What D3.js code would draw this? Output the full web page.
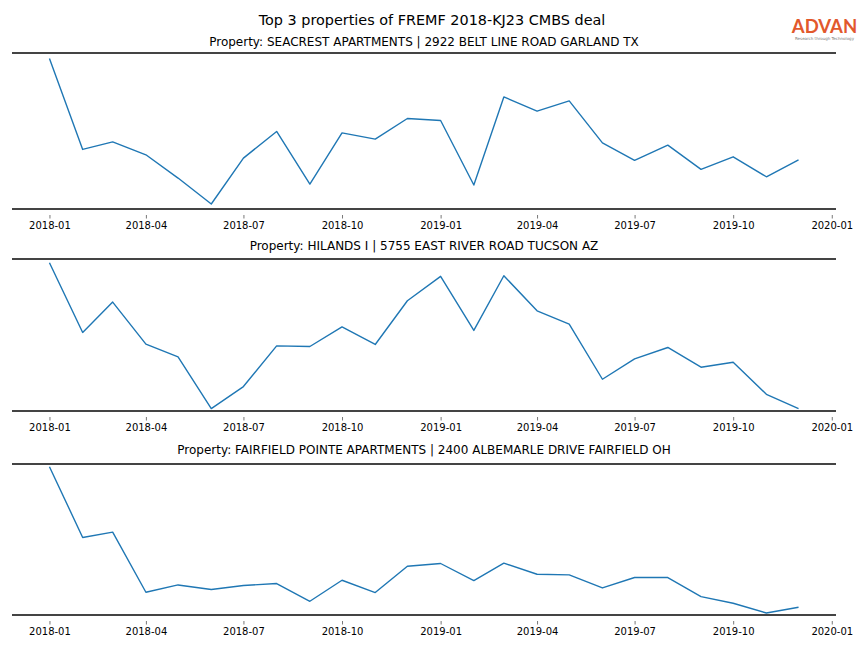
<!DOCTYPE html>
<html>
<head>
<meta charset="utf-8">
<script src="https://cdn.jsdelivr.net/npm/d3@7"></script>
<style>
  html, body { margin: 0; padding: 0; background: #fff; }
  svg { display: block; font-family: "DejaVu Sans", sans-serif; }
</style>
</head>
<body>
<svg id="chart" width="864" height="648"></svg>
<script>
// ---- data ----
const months = [
  "2018-01","2018-02","2018-03","2018-04","2018-05","2018-06",
  "2018-07","2018-08","2018-09","2018-10","2018-11","2018-12",
  "2019-01","2019-02","2019-03","2019-04","2019-05","2019-06",
  "2019-07","2019-08","2019-09","2019-10","2019-11","2019-12"
];
const tickLabels = ["2018-01","2018-04","2018-07","2018-10","2019-01","2019-04","2019-07","2019-10","2020-01"];

const mainTitle = "Top 3 properties of FREMF 2018-KJ23 CMBS deal";
const propertyTitles = [
  "Property: SEACREST APARTMENTS | 2922 BELT LINE ROAD GARLAND TX",
  "Property: HILANDS I | 5755 EAST RIVER ROAD TUCSON AZ",
  "Property: FAIRFIELD POINTE APARTMENTS | 2400 ALBEMARLE DRIVE FAIRFIELD OH"
];

// estimated values (no y-axis shown, relative units)
const seacrest = [1507, 597, 673, 543, 310, 50, 510, 777, 250, 763, 700, 907,
                  887, 240, 1123, 980, 1083, 663, 487, 640, 397, 523, 323, 493];
const hilands = [1480, 784, 1087, 667, 540, 24, 244, 650, 644, 840, 664, 1100,
                 1344, 804, 1350, 1000, 867, 317, 520, 634, 437, 487, 167, 24];
const fairfield = [1480, 774, 827, 227, 300, 254, 294, 314, 137, 347, 224, 487,
                   514, 344, 517, 407, 400, 270, 374, 374, 184, 117, 20, 77];
const seriesList = [seacrest, hilands, fairfield];
const yDomains = [[0, 1563], [0, 1517], [0, 1507]];

// ---- layout ----
const svg = d3.select("#chart");
const W = 864, H = 648;
const left = 12, right = 836;
const panels = [
  {top: 53, bottom: 209, titleY: 46},
  {top: 259, bottom: 411, titleY: 250},
  {top: 464, bottom: 615, titleY: 454}
];

const parse = d3.timeParse("%Y-%m");
const dates = months.map(parse);
const tickDates = tickLabels.map(parse);

const t0 = dates[0], t1 = dates[dates.length - 1];
const span = t1 - t0;
const x = d3.scaleTime()
  .domain([new Date(+t0 - 0.05 * span), new Date(+t1 + 0.05 * span)])
  .range([left, right]);

// main title
svg.append("text")
  .attr("x", W / 2).attr("y", 24.5)
  .attr("text-anchor", "middle")
  .attr("font-size", 14.4)
  .attr("fill", "#000")
  .text(mainTitle);

// logo
const logo = svg.append("g");
logo.append("text")
  .attr("x", 824.5).attr("y", 33)
  .attr("text-anchor", "middle")
  .attr("font-family", "Lato, 'Open Sans', sans-serif")
  .attr("font-size", 18.5)
  .attr("font-weight", 700)
  .attr("letter-spacing", 0)
  .attr("fill", "#e2582c")
  .text("ADVAN");
logo.append("text")
  .attr("x", 824.5).attr("y", 39.5)
  .attr("text-anchor", "middle")
  .attr("font-size", 4)
  .attr("fill", "#777")
  .text("Research through Technology");

panels.forEach((p, i) => {
  const y = d3.scaleLinear().domain(yDomains[i]).range([p.bottom, p.top]);
  const g = svg.append("g");

  g.append("text")
    .attr("x", (left + right) / 2).attr("y", p.titleY)
    .attr("text-anchor", "middle")
    .attr("font-size", 12)
    .attr("fill", "#000")
    .text(propertyTitles[i]);

  // line
  const line = d3.line()
    .x((d, j) => x(dates[j]))
    .y(d => y(d));
  g.append("path")
    .datum(seriesList[i])
    .attr("fill", "none")
    .attr("stroke", "#1f77b4")
    .attr("stroke-width", 1.4)
    .attr("stroke-linejoin", "round")
    .attr("d", line);

  // x axis
  const ax = g.append("g")
    .attr("transform", `translate(0,${p.bottom})`)
    .call(d3.axisBottom(x)
      .tickValues(tickDates)
      .tickFormat(d3.timeFormat("%Y-%m"))
      .tickSizeInner(0)
      .tickSizeOuter(0)
      .tickPadding(0));
  ax.select(".domain").remove();
  ax.selectAll(".tick line").remove();
  ax.selectAll(".tick").append("line")
    .attr("y1", 6).attr("y2", 9.5)
    .attr("stroke", "#555").attr("stroke-width", 0.8);
  ax.selectAll(".tick text")
    .attr("y", 20)
    .attr("dy", 0)
    .attr("font-size", 10)
    .attr("font-family", "DejaVu Sans, sans-serif")
    .attr("fill", "#000");

  // spines top & bottom
  [p.top, p.bottom].forEach(yy => {
    g.append("line")
      .attr("x1", left).attr("x2", right)
      .attr("y1", yy).attr("y2", yy)
      .attr("stroke", "#444").attr("stroke-width", 1.8);
  });
});
</script>
</body>
</html>
